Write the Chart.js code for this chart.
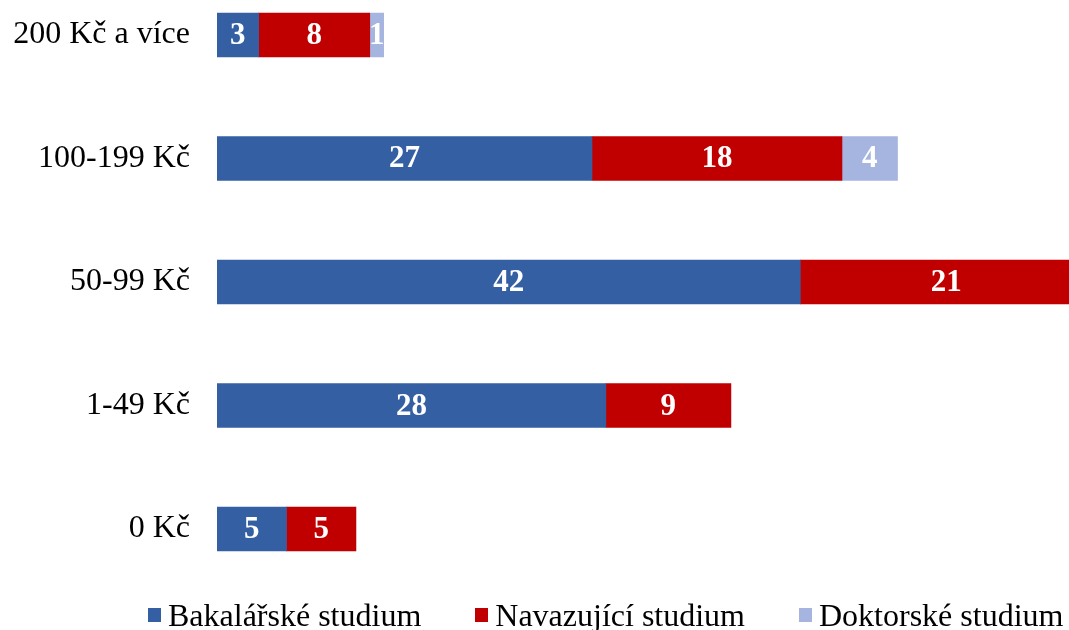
<!DOCTYPE html>
<html>
<head>
<meta charset="utf-8">
<script src="https://cdn.jsdelivr.net/npm/chart.js@4.4.1/dist/chart.umd.min.js"></script>
<style>
  html, body { margin: 0; padding: 0; background: #fff; overflow: hidden; }
  #wrap { position: absolute; left: 0; top: -73px; width: 1210px; height: 710px; }
  #legend {
    position: absolute; left: 148px; top: 599px;
    display: flex; align-items: center; gap: 54px;
    font-family: "Liberation Serif", "Times New Roman", serif;
    font-size: 32px; line-height: 32px; color: #000; white-space: nowrap;
  }
  #legend .item { display: flex; align-items: center; }
  #legend .box { width: 13px; height: 14px; margin-right: 7px; }
</style>
</head>
<body>
<div id="wrap"><canvas id="chart"></canvas></div>
<div id="legend"></div>
<script>
// Data
const categories = ['200 Kč a více', '100-199 Kč', '50-99 Kč', '1-49 Kč', '0 Kč'];
const bakalarske = [3, 27, 42, 28, 5];
const navazujici = [8, 18, 21, 9, 5];
const doktorske = [1, 4, 0, 0, 0];

const seriesNames = ['Bakalářské studium', 'Navazující studium', 'Doktorské studium'];
const seriesColors = ['#355FA3', '#C00000', '#A6B5DF'];

// white value labels in the middle of each segment
const barLabels = {
  id: 'barLabels',
  afterDatasetsDraw(chart) {
    const ctx = chart.ctx;
    ctx.save();
    ctx.font = 'bold 31px "Liberation Serif", "Times New Roman", serif';
    ctx.fillStyle = '#fff';
    ctx.textAlign = 'center';
    ctx.textBaseline = 'middle';
    chart.data.datasets.forEach((ds, i) => {
      chart.getDatasetMeta(i).data.forEach((bar, j) => {
        const v = ds.data[j];
        if (!v) return;
        ctx.fillText(String(v), (bar.x + bar.base) / 2, bar.y + 1);
      });
    });
    ctx.restore();
  }
};

// legend as html under the chart
const legendEl = document.getElementById('legend');
seriesNames.forEach((name, i) => {
  const item = document.createElement('div');
  item.className = 'item';
  const box = document.createElement('span');
  box.className = 'box';
  box.style.background = seriesColors[i];
  item.appendChild(box);
  item.appendChild(document.createTextNode(name));
  legendEl.appendChild(item);
});

const ctx = document.getElementById('chart').getContext('2d');
new Chart(ctx, {
  type: 'bar',
  data: {
    labels: categories,
    datasets: [
      { label: seriesNames[0], data: bakalarske, backgroundColor: seriesColors[0] },
      { label: seriesNames[1], data: navazujici, backgroundColor: seriesColors[1] },
      { label: seriesNames[2], data: doktorske, backgroundColor: seriesColors[2] }
    ]
  },
  options: {
    indexAxis: 'y',
    responsive: true,
    maintainAspectRatio: false,
    animation: false,
    barThickness: 44,
    layout: { padding: 0 },
    plugins: {
      tooltip: { enabled: false },
      legend: { display: false }
    },
    scales: {
      x: {
        stacked: true,
        display: false,
        min: 0,
        max: 71.5
      },
      y: {
        stacked: true,
        grid: { display: false, drawTicks: false },
        border: { display: false },
        ticks: {
          padding: 27,
          color: '#000',
          font: { family: '"Liberation Serif", "Times New Roman", serif', size: 32 }
        },
        afterFit(scale) { scale.width = 217; }
      }
    }
  },
  plugins: [barLabels]
});
</script>
</body>
</html>
